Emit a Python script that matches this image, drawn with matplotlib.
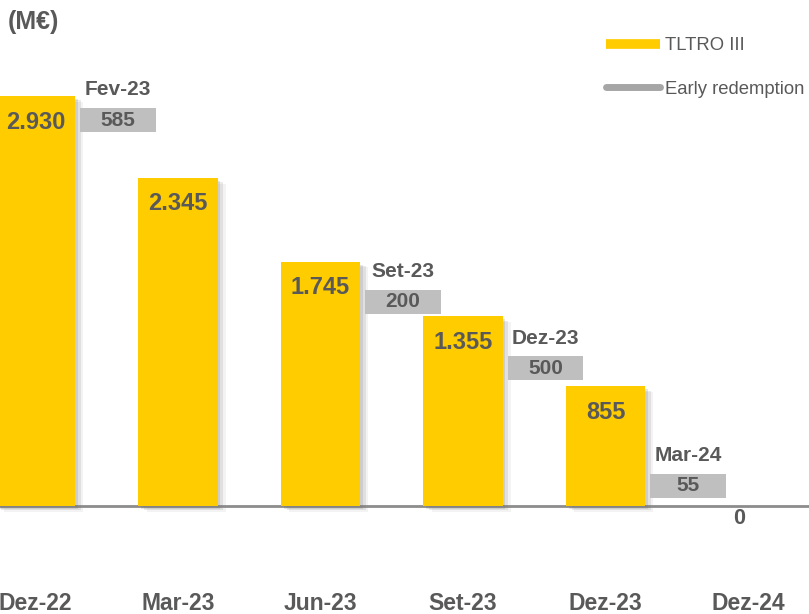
"""
TLTRO III outstanding amount and early redemptions (M€)
"""

import matplotlib.pyplot as plt
import matplotlib.patheffects as pe
from matplotlib.lines import Line2D

plt.rcParams['font.family'] = ['Liberation Sans', 'DejaVu Sans']

# Outstanding TLTRO III by date
dates = ["Dez-22", "Mar-23", "Jun-23", "Set-23", "Dez-23", "Dez-24"]
tltro = [2930, 2345, 1745, 1355, 855, 0]

# Early redemptions, placed after the given date index
redemption_labels = ["Fev-23", "Set-23", "Dez-23", "Mar-24"]
redemption_values = [585, 200, 500, 55]
redemption_after = [0, 2, 3, 4]
redemption_level = [2845, 1545, 1070, 230]

YELLOW = "#FFCC00"
GREY_BOX = "#BFBFBF"
GREY_TXT = "#595959"
BOX_H = 172


def fmt(v):
    return f"{v:,}".replace(",", ".")


fig = plt.figure(figsize=(8.09, 6.14), dpi=100)
ax = fig.add_axes([0, 0, 1, 1])
ax.set_xlim(-0.249, 5.428)
ax.set_ylim(-772, 3617)
ax.axis("off")

shadow = [pe.SimplePatchShadow(offset=(2, -2), shadow_rgbFace="#707070", alpha=0.18),
          pe.SimplePatchShadow(offset=(4, -3), shadow_rgbFace="#707070", alpha=0.14),
          pe.SimplePatchShadow(offset=(6, -4), shadow_rgbFace="#909090", alpha=0.10),
          pe.Normal()]

# baseline
ax.axhline(0, color="#8C8C8C", lw=2, zorder=1)

xs = list(range(len(dates)))
bars = ax.bar(xs, tltro, width=0.555, color=YELLOW, zorder=2)
for b in bars:
    b.set_path_effects(shadow)

for x, v, d in zip(xs, tltro, dates):
    if v > 0:
        ax.annotate(fmt(v), (x, v), xytext=(0, -26), textcoords="offset pixels",
                    ha="center", va="center", fontsize=17, fontweight="bold",
                    color=GREY_TXT, zorder=3)
    else:
        ax.annotate(fmt(v), (x - 0.06, 0), xytext=(0, -12), textcoords="offset pixels",
                    ha="center", va="center", fontsize=15.5, fontweight="bold",
                    color=GREY_TXT, zorder=3)
    ax.annotate(d, (x, 0), xytext=(0, -97), textcoords="offset pixels",
                ha="center", va="center", fontsize=16.5, fontweight="bold",
                color=GREY_TXT, annotation_clip=False)

# early redemption boxes
for lab, v, i, top in zip(redemption_labels, redemption_values,
                          redemption_after, redemption_level):
    cx = i + 0.58
    ax.bar(cx, BOX_H, bottom=top - BOX_H, width=0.53, color=GREY_BOX, zorder=2)
    ax.text(cx, top - BOX_H / 2, fmt(v), ha="center", va="center",
            fontsize=15, fontweight="bold", color=GREY_TXT, zorder=3)
    ax.annotate(lab, (cx, top), xytext=(0, 18), textcoords="offset pixels",
                ha="center", va="center", fontsize=15, fontweight="bold",
                color=GREY_TXT)

fig.text(8 / 809, 1 - 22 / 614, "(M€)", ha="left", va="center",
         fontsize=18, fontweight="bold", color=GREY_TXT)

handles = [Line2D([], [], color=YELLOW, lw=7, solid_capstyle="butt"),
           Line2D([], [], color="#A6A6A6", lw=5, solid_capstyle="round")]
leg = fig.legend(handles, ["TLTRO III", "Early redemption"],
                 loc="upper left", bbox_to_anchor=(606 / 809, 1 - 37 / 614),
                 frameon=False, fontsize=13.3, handlelength=2.9,
                 handletextpad=0.3, labelspacing=1.45, borderpad=0,
                 borderaxespad=0)
for t in leg.get_texts():
    t.set_color(GREY_TXT)

fig.savefig("out.png", dpi=100)
plt.close(fig)
